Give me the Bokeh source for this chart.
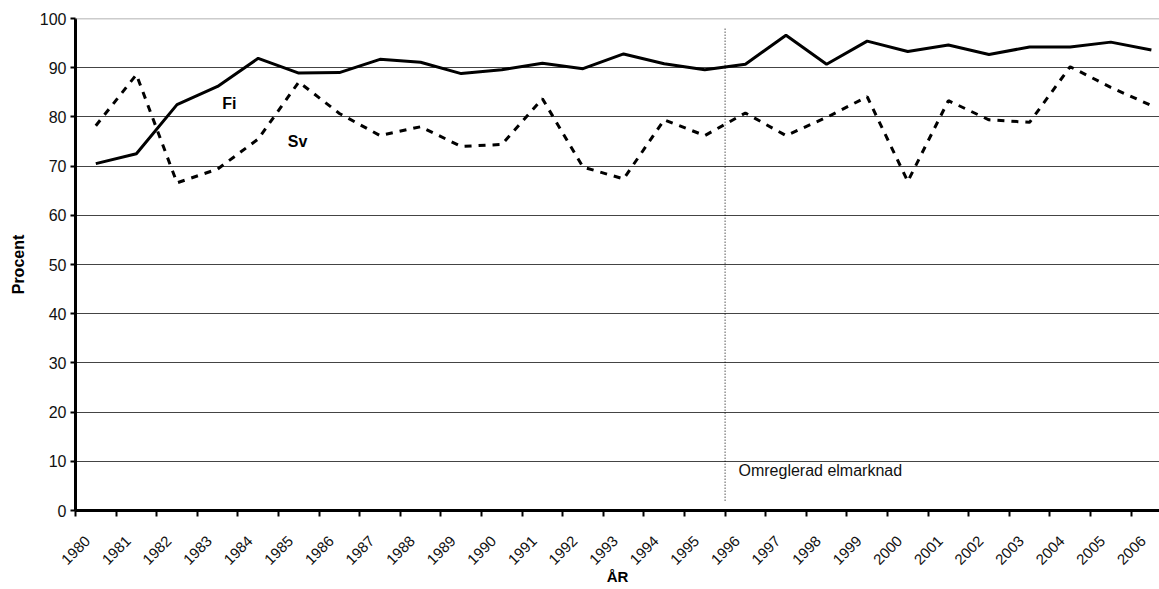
import math
from bokeh.plotting import figure
from bokeh.models import Range1d, FixedTicker, Span, Label
from bokeh.embed import file_html
from bokeh.resources import INLINE

years = [str(y) for y in range(1980, 2007)]
fi = [70.5, 72.5, 82.5, 86.2, 91.9, 88.9, 89.0, 91.7, 91.1, 88.8, 89.6, 90.9, 89.8, 92.8,
      90.8, 89.6, 90.7, 96.6, 90.7, 95.4, 93.3, 94.6, 92.7, 94.2, 94.2, 95.2, 93.6]
sv = [78.2, 88.6, 66.6, 69.4, 75.5, 87.1, 80.7, 76.2, 78.0, 74.0, 74.4, 83.7, 69.8, 67.4,
      79.4, 76.2, 80.8, 76.2, 79.9, 84.1, 66.9, 83.3, 79.4, 78.9, 90.2, 86.0, 82.3]
y_ticks = list(range(0, 101, 10))
reform_year = "1996"
reform_label = "Omreglerad elmarknad"

FONT = "Liberation Sans"

xc = [i + 0.5 for i in range(len(years))]
bounds = list(range(len(years)))
label_pos = [i + 0.3 for i in range(len(years))]

p = figure(width=1159, height=589, output_backend="svg", toolbar_location=None,
           x_range=Range1d(0, 26.7), y_range=Range1d(0, 100),
           min_border_left=75, min_border_right=0, min_border_top=18, min_border_bottom=79)
p.outline_line_color = None
p.background_fill_color = "white"
p.border_fill_color = "white"

# grid
p.xgrid.visible = False
p.ygrid.ticker = FixedTicker(ticks=y_ticks[1:-1])
p.ygrid.grid_line_color = "#444444"
p.ygrid.grid_line_width = 1
p.add_layout(Span(location=100, dimension="width", line_color="#999999", line_width=1.5))

# y axis
p.yaxis.ticker = FixedTicker(ticks=y_ticks)
p.yaxis.axis_line_width = 3
p.yaxis.axis_line_color = "black"
p.yaxis.major_tick_line_width = 2
p.yaxis.major_tick_out = 5
p.yaxis.major_tick_in = 0
p.yaxis.minor_tick_line_color = None
p.yaxis.major_label_text_font = FONT
p.yaxis.major_label_text_font_size = "16px"
p.yaxis.major_label_text_color = "#111111"
p.yaxis.major_label_standoff = 4
p.yaxis.axis_label = "Procent"
p.yaxis.axis_label_text_font = FONT
p.yaxis.axis_label_text_font_style = "bold"
p.yaxis.axis_label_text_font_size = "16px"
p.yaxis.axis_label_text_color = "black"
p.yaxis.axis_label_standoff = 10

# x axis
p.xaxis.ticker = FixedTicker(ticks=label_pos, minor_ticks=bounds)
p.xaxis.major_label_overrides = {x: y for x, y in zip(label_pos, years)}
p.xaxis.major_tick_line_color = None
p.xaxis.major_tick_out = 0
p.xaxis.major_tick_in = 0
p.xaxis.minor_tick_line_color = "black"
p.xaxis.minor_tick_line_width = 2
p.xaxis.minor_tick_out = 6
p.xaxis.minor_tick_in = 0
p.xaxis.axis_line_width = 3
p.xaxis.axis_line_color = "black"
p.xaxis.major_label_orientation = math.pi / 4
p.xaxis.major_label_text_font = FONT
p.xaxis.major_label_text_font_size = "15px"
p.xaxis.major_label_text_color = "#111111"
p.xaxis.major_label_standoff = 22
p.xaxis.axis_label = "ÅR"
p.xaxis.axis_label_text_font = FONT
p.xaxis.axis_label_text_font_style = "bold"
p.xaxis.axis_label_text_font_size = "15px"
p.xaxis.axis_label_text_color = "black"
p.xaxis.axis_label_standoff = -4

# data lines
p.line(xc, fi, line_color="black", line_width=3)
p.line(xc, sv, line_color="black", line_width=3, line_dash="7 7")

# reform line
rx = years.index(reform_year)
p.segment(x0=[rx], y0=[2.0], x1=[rx], y1=[98.2], line_color="black", line_width=1, line_dash="1 2")
p.add_layout(Label(x=rx + 0.33, y=8.1, text=reform_label, text_font=FONT, text_font_size="16px",
                   text_baseline="middle", text_color="#111111"))

# series labels
p.add_layout(Label(x=3.79, y=82.8, text="Fi", text_font=FONT, text_font_size="16px",
                   text_font_style="bold", text_align="center", text_baseline="middle",
                   text_color="black"))
p.add_layout(Label(x=5.47, y=75.1, text="Sv", text_font=FONT, text_font_size="16px",
                   text_font_style="bold", text_align="center", text_baseline="middle",
                   text_color="black"))

open("out.html", "w").write(file_html(p, INLINE))
